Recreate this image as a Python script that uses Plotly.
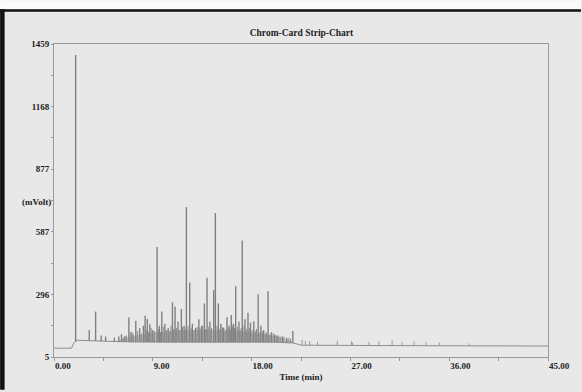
import numpy as np
import plotly.graph_objects as go

# ---- data ----
x_ticks = [0, 9, 18, 27, 36, 45]
x_tick_labels = ["0.00", "9.00", "18.00", "27.00", "36.00", "45.00"]
y_ticks = [5, 296, 587, 877, 1168, 1459]
y_tick_labels = ["5", "296", "587", "877", "1168", "1459"]

# baseline (time min, mVolt)
base_t = [0.0, 1.6, 1.8, 2.1, 3.0, 5.0, 7.0, 10.0, 15.0, 20.0, 21.8, 22.5, 30.0, 45.0]
base_v = [46, 46, 70, 83, 81, 77, 75, 74, 74, 74, 70, 60, 58, 56]

# main peaks (time, height in mVolt)
peak_t = [1.97, 3.21, 3.79, 4.3, 4.7, 5.5, 5.9, 6.15, 6.45, 6.82, 7.1, 7.45, 7.8,
          8.15, 8.3, 8.5, 8.73, 9.0, 9.39, 9.6, 9.82, 10.1, 10.4, 10.79, 11.03,
          11.3, 11.6, 11.85, 12.06, 12.36, 12.6, 12.9, 13.2, 13.45, 13.7, 13.94,
          14.2, 14.55, 14.7, 14.97, 15.2, 15.45, 15.76, 15.95, 16.15, 16.35,
          16.55, 16.85, 17.15, 17.4, 17.67, 17.9, 18.2, 18.6, 18.85, 19.1, 19.5,
          19.8, 20.1, 20.4, 20.8, 21.2, 21.76]
peak_v = [1408, 131, 216, 105, 100, 95, 100, 111, 102, 188, 120, 173, 139,
          150, 197, 182, 157, 130, 516, 150, 216, 160, 140, 259, 240,
          170, 228, 150, 701, 351, 160, 140, 180, 150, 254, 373,
          170, 316, 674, 254, 160, 140, 190, 150, 200, 160,
          334, 170, 546, 180, 210, 165, 171, 296, 150, 130, 311,
          120, 110, 105, 100, 95, 126]

# small peaks forming the dense band
small_t = [6.3, 6.6, 6.95, 7.25, 7.6, 7.95, 8.4, 8.6, 8.85, 9.15,
           9.5, 9.7, 9.95, 10.25, 10.55, 10.65, 10.9, 11.15, 11.45, 11.7,
           11.95, 12.2, 12.5, 12.75, 13.05, 13.3, 13.55, 13.8, 14.05, 14.35,
           14.85, 15.1, 15.35, 15.6, 15.85, 16.05, 16.25, 16.45, 16.7, 16.95,
           17.05, 17.3, 17.55, 17.8, 18.05, 18.35, 18.45, 18.75, 19.0, 19.25,
           19.35, 19.65, 19.95, 20.25, 20.6, 20.95, 21.4, 21.55]
small_v = [95, 105, 120, 110, 125, 115, 130, 120, 140, 125,
           135, 120, 145, 130, 125, 150, 135, 140, 130, 145,
           135, 150, 140, 130, 145, 140, 150, 135, 145, 140,
           150, 135, 145, 130, 140, 135, 150, 140, 145, 130,
           140, 150, 135, 140, 130, 125, 135, 120, 125, 115,
           120, 110, 115, 105, 100, 100, 95, 90]

# late small spikes
tail_t = [22.6, 22.9, 23.3, 24.0, 25.8, 27.1, 27.2, 28.7, 29.6, 30.8, 31.7, 32.8, 33.9, 35.1, 37.8]
tail_v = [85, 80, 78, 75, 80, 78, 72, 75, 78, 82, 75, 78, 75, 72, 68]

# dense band envelope (time, mVolt)
band_t = [5.8, 7.0, 9.0, 11.0, 13.0, 15.0, 17.0, 19.0, 20.5, 21.8]
band_v = [82, 100, 118, 128, 130, 130, 125, 112, 98, 75]


def spikes(ts, vs):
    xs, ys = [], []
    for t, v in zip(ts, vs):
        b = float(np.interp(t, base_t, base_v))
        xs += [t, t, None]
        ys += [b, v, None]
    return xs, ys


fig = go.Figure()

# band fill
fig.add_trace(go.Scatter(x=band_t, y=band_v, mode="lines", line=dict(color="rgba(150,150,150,0.0)", width=0),
                         fill="none", showlegend=False, hoverinfo="skip"))
fig.add_trace(go.Scatter(x=band_t, y=[float(np.interp(t, base_t, base_v)) for t in band_t], mode="lines",
                         line=dict(width=0, color="rgba(0,0,0,0)"), fill="tonexty",
                         fillcolor="rgba(140,140,140,0.5)", showlegend=False, hoverinfo="skip"))

fig.add_trace(go.Scatter(x=base_t, y=base_v, mode="lines", line=dict(color="#8c8c8c", width=1),
                         showlegend=False, hoverinfo="skip"))
sx, sy = spikes(small_t, small_v)
fig.add_trace(go.Scatter(x=sx, y=sy, mode="lines", line=dict(color="#8a8a8a", width=1),
                         showlegend=False, hoverinfo="skip", connectgaps=False))
tx, ty = spikes(tail_t, tail_v)
fig.add_trace(go.Scatter(x=tx, y=ty, mode="lines", line=dict(color="#9a9a9a", width=1),
                         showlegend=False, hoverinfo="skip", connectgaps=False))
px_, py_ = spikes(peak_t, peak_v)
fig.add_trace(go.Scatter(x=px_, y=py_, mode="lines", line=dict(color="#808080", width=1.4),
                         showlegend=False, hoverinfo="skip", connectgaps=False))

W, H = 582, 392
L, R, T, B = 54, 33, 44, 33
pw, ph = W - L - R, H - T - B


def xp(px):
    return (px - L) / pw


def yp(py):
    return (H - B - py) / ph


shapes = [
    dict(type="rect", xref="paper", yref="paper", x0=xp(0), x1=xp(W), y0=yp(0), y1=yp(9),
         fillcolor="#fafafa", line=dict(width=0), layer="above"),
    dict(type="rect", xref="paper", yref="paper", x0=xp(0), x1=xp(W), y0=yp(9), y1=yp(11.5),
         fillcolor="#111111", line=dict(width=0), layer="above"),
    dict(type="rect", xref="paper", yref="paper", x0=xp(0), x1=xp(4.5), y0=yp(9), y1=yp(H),
         fillcolor="#111111", line=dict(width=0), layer="above"),
]

font = dict(family="Liberation Serif", size=9, color="#222222")

fig.update_layout(
    width=W, height=H,
    margin=dict(l=L, r=R, t=T, b=B, pad=0),
    paper_bgcolor="#e8e8e8", plot_bgcolor="#e8e8e8",
    showlegend=False,
    shapes=shapes,
    font=font,
    title=dict(text="<b>Chrom-Card Strip-Chart</b>", x=xp(302), xanchor="center", xref="paper",
               y=1 - 32.7 / H, yanchor="middle", font=dict(family="Liberation Serif", size=9.5, color="#222")),
    xaxis=dict(range=[0, 45], tickvals=x_ticks, ticktext=["<b>%s</b>" % s for s in x_tick_labels],
               ticks="outside", ticklen=3, tickcolor="#999", tickwidth=1,
               minor=dict(dtick=4.5, tick0=0, ticks="outside", ticklen=3, tickcolor="#999"),
               showline=True, linecolor="#9a9a9a", linewidth=1, mirror=True,
               showgrid=False, zeroline=False, ticklabelposition="outside right",
               tickfont=dict(family="Liberation Serif", size=9, color="#222"),
               title=dict(text="<b>Time (min)</b>", standoff=3,
                          font=dict(family="Liberation Serif", size=9, color="#222"))),
    yaxis=dict(range=[5, 1459], tickvals=y_ticks, ticktext=["<b>%s</b>" % s for s in y_tick_labels],
               ticks="outside", ticklen=2, tickcolor="#999", tickwidth=1,
               minor=dict(tickvals=[150.5, 441.5, 732, 1022.5, 1313.5], ticks="outside", ticklen=2, tickcolor="#999"),
               showline=True, linecolor="#9a9a9a", linewidth=1, mirror=True,
               showgrid=False, zeroline=False,
               tickfont=dict(family="Liberation Serif", size=9, color="#222")),
    annotations=[dict(text="<b>(mVolt)</b>", xref="paper", yref="paper", x=xp(53), y=yp(202.7),
                      xanchor="right", yanchor="middle", showarrow=False,
                      font=dict(family="Liberation Serif", size=9, color="#222"))],
)

fig.write_html("out.html")
